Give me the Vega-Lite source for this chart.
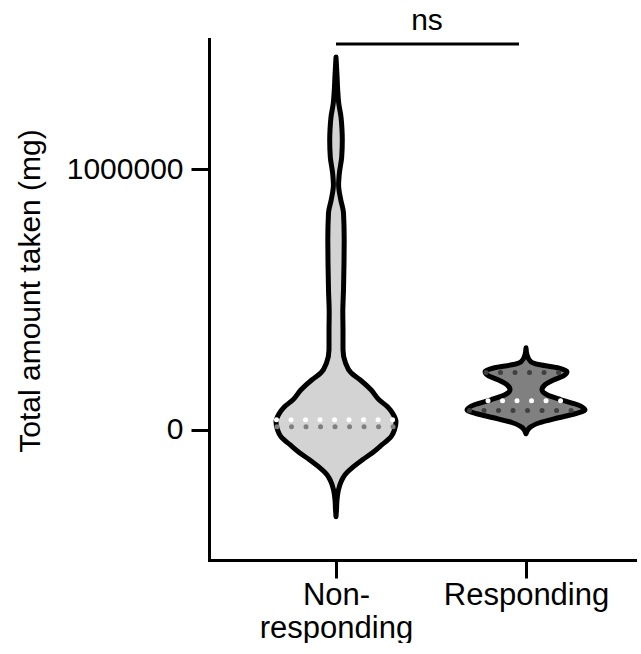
{
  "$schema": "https://vega.github.io/schema/vega-lite/v6.json",
  "background": "white",
  "padding": {"left": 15, "top": 6, "right": 0, "bottom": 0},
  "config": {
    "view": {"stroke": null},
    "font": "Liberation Sans",
    "axis": {
      "domainColor": "black", "domainWidth": 3, "domainCap": "square",
      "tickColor": "black", "tickWidth": 3, "tickSize": 18,
      "labelColor": "black", "labelFont": "Liberation Sans",
      "grid": false, "titleColor": "black", "titleFont": "Liberation Sans", "titleFontWeight": "normal"
    }
  },
  "datasets": {
    "violin": [
      {"group": "Non-responding", "amount": -333700, "lo": 0, "hi": 0},
      {"group": "Non-responding", "amount": -306900, "lo": -0.5, "hi": 0.5},
      {"group": "Non-responding", "amount": -268500, "lo": -1, "hi": 1},
      {"group": "Non-responding", "amount": -230100, "lo": -2.5, "hi": 2.5},
      {"group": "Non-responding", "amount": -191800, "lo": -6, "hi": 6},
      {"group": "Non-responding", "amount": -172600, "lo": -9, "hi": 9},
      {"group": "Non-responding", "amount": -141900, "lo": -17.5, "hi": 17.5},
      {"group": "Non-responding", "amount": -115100, "lo": -26.5, "hi": 26.5},
      {"group": "Non-responding", "amount": -88200, "lo": -36.5, "hi": 36.5},
      {"group": "Non-responding", "amount": -57500, "lo": -46, "hi": 46},
      {"group": "Non-responding", "amount": -26900, "lo": -55, "hi": 55},
      {"group": "Non-responding", "amount": 0, "lo": -58.5, "hi": 58.5},
      {"group": "Non-responding", "amount": 30700, "lo": -60, "hi": 60},
      {"group": "Non-responding", "amount": 57500, "lo": -57.5, "hi": 57.5},
      {"group": "Non-responding", "amount": 88200, "lo": -51.5, "hi": 51.5},
      {"group": "Non-responding", "amount": 115100, "lo": -43, "hi": 43},
      {"group": "Non-responding", "amount": 153400, "lo": -35, "hi": 35},
      {"group": "Non-responding", "amount": 191800, "lo": -24, "hi": 24},
      {"group": "Non-responding", "amount": 218600, "lo": -15, "hi": 15},
      {"group": "Non-responding", "amount": 257000, "lo": -9.5, "hi": 9.5},
      {"group": "Non-responding", "amount": 306900, "lo": -7, "hi": 7},
      {"group": "Non-responding", "amount": 383600, "lo": -7, "hi": 7},
      {"group": "Non-responding", "amount": 448800, "lo": -6.8, "hi": 6.8},
      {"group": "Non-responding", "amount": 537000, "lo": -7.5, "hi": 7.5},
      {"group": "Non-responding", "amount": 640600, "lo": -8, "hi": 8},
      {"group": "Non-responding", "amount": 728800, "lo": -8.2, "hi": 8.2},
      {"group": "Non-responding", "amount": 832400, "lo": -7.5, "hi": 7.5},
      {"group": "Non-responding", "amount": 882200, "lo": -4.8, "hi": 4.8},
      {"group": "Non-responding", "amount": 939800, "lo": -2.6, "hi": 2.6},
      {"group": "Non-responding", "amount": 985800, "lo": -3.4, "hi": 3.4},
      {"group": "Non-responding", "amount": 1047200, "lo": -5.7, "hi": 5.7},
      {"group": "Non-responding", "amount": 1112400, "lo": -6.3, "hi": 6.3},
      {"group": "Non-responding", "amount": 1150700, "lo": -6, "hi": 6},
      {"group": "Non-responding", "amount": 1200600, "lo": -5, "hi": 5},
      {"group": "Non-responding", "amount": 1254300, "lo": -2.7, "hi": 2.7},
      {"group": "Non-responding", "amount": 1304200, "lo": -1.7, "hi": 1.7},
      {"group": "Non-responding", "amount": 1361700, "lo": -1, "hi": 1},
      {"group": "Non-responding", "amount": 1430800, "lo": 0, "hi": 0},
      {"group": "Responding", "amount": -15300, "lo": 0, "hi": 0},
      {"group": "Responding", "amount": 7700, "lo": -3.5, "hi": 3.5},
      {"group": "Responding", "amount": 26900, "lo": -13.5, "hi": 13.5},
      {"group": "Responding", "amount": 46000, "lo": -32.5, "hi": 32.5},
      {"group": "Responding", "amount": 61400, "lo": -49, "hi": 49},
      {"group": "Responding", "amount": 76700, "lo": -59, "hi": 59},
      {"group": "Responding", "amount": 95900, "lo": -51.5, "hi": 51.5},
      {"group": "Responding", "amount": 115100, "lo": -35, "hi": 35},
      {"group": "Responding", "amount": 134300, "lo": -21, "hi": 21},
      {"group": "Responding", "amount": 153400, "lo": -16, "hi": 16},
      {"group": "Responding", "amount": 172600, "lo": -19, "hi": 19},
      {"group": "Responding", "amount": 191800, "lo": -28, "hi": 28},
      {"group": "Responding", "amount": 207100, "lo": -37.5, "hi": 37.5},
      {"group": "Responding", "amount": 222500, "lo": -41, "hi": 41},
      {"group": "Responding", "amount": 237800, "lo": -31.5, "hi": 31.5},
      {"group": "Responding", "amount": 249300, "lo": -14, "hi": 14},
      {"group": "Responding", "amount": 260800, "lo": -5, "hi": 5},
      {"group": "Responding", "amount": 287700, "lo": -1, "hi": 1},
      {"group": "Responding", "amount": 314500, "lo": 0, "hi": 0}
    ],
    "summary": [
      {"group": "Non-responding", "stat": "median", "amount": 38400, "lo": -59.5, "hi": 59.5},
      {"group": "Non-responding", "stat": "quartile", "amount": 11500, "lo": -59, "hi": 59},
      {"group": "Responding", "stat": "quartile", "amount": 219800, "lo": -40, "hi": 40},
      {"group": "Responding", "stat": "median", "amount": 111200, "lo": -38, "hi": 38},
      {"group": "Responding", "stat": "quartile", "amount": 74000, "lo": -56.5, "hi": 56.5}
    ],
    "comparison": [
      {"group1": "Non-responding", "group2": "Responding", "label": "ns", "amount": 1480600}
    ]
  },
  "spacing": 0,
  "bounds": "flush",
  "resolve": {"scale": {"x": "independent", "y": "independent", "color": "independent"}},
  "hconcat": [
    {
      "width": 221,
      "height": 521,
      "layer": [
        {
          "data": {"name": "violin"},
          "transform": [{"filter": "datum.group === 'Non-responding'"}],
          "mark": {"type": "area", "orient": "horizontal", "interpolate": "monotone", "fill": "#d3d3d3", "stroke": "black", "strokeWidth": 5, "strokeJoin": "round"},
          "encoding": {
            "y": {
              "field": "amount", "type": "quantitative",
              "scale": {"domain": [-500000, 1500000], "nice": false, "zero": false},
              "axis": {
                "values": [0, 1000000], "format": "d", "labelFontSize": 30, "labelPadding": 8,
                "title": "Total amount taken (mg)", "titleFontSize": 30,
                "titleX": -170, "titleY": 251.5, "titleBaseline": "alphabetic", "titleAngle": 270, "titleAlign": "center"
              }
            },
            "x": {
              "field": "lo", "type": "quantitative",
              "scale": {"domain": [-127, 94], "nice": false, "zero": false},
              "axis": {"values": [0], "labelExpr": "['Non-', 'responding']", "labelFontSize": 31, "labelLineHeight": 33, "labelPadding": 2, "title": null}
            },
            "x2": {"field": "hi"}
          }
        },
        {
          "data": {"name": "summary"},
          "transform": [{"filter": "datum.group === 'Non-responding'"}],
          "mark": {"type": "rule", "strokeWidth": 5, "strokeCap": "round", "strokeDash": [0.01, 14.5]},
          "encoding": {
            "y": {"field": "amount", "type": "quantitative"},
            "x": {"field": "lo", "type": "quantitative"},
            "x2": {"field": "hi"},
            "color": {"field": "stat", "type": "nominal", "scale": {"domain": ["median", "quartile"], "range": ["#ffffff", "#7f7f7f"]}, "legend": null}
          }
        },
        {
          "data": {"name": "comparison"},
          "mark": {"type": "rule", "strokeWidth": 3, "color": "black"},
          "encoding": {
            "y": {"field": "amount", "type": "quantitative"},
            "x": {"datum": 0},
            "x2": {"datum": 94}
          }
        },
        {
          "data": {"name": "comparison"},
          "mark": {"type": "text", "fontSize": 30, "font": "Liberation Sans", "baseline": "alphabetic", "align": "center", "dy": -14, "color": "black"},
          "encoding": {
            "y": {"field": "amount", "type": "quantitative"},
            "x": {"datum": 91},
            "text": {"field": "label"}
          }
        }
      ]
    },
    {
      "width": 207,
      "height": 521,
      "layer": [
        {
          "data": {"name": "violin"},
          "transform": [{"filter": "datum.group === 'Responding'"}],
          "mark": {"type": "area", "orient": "horizontal", "interpolate": "monotone", "fill": "#808080", "stroke": "black", "strokeWidth": 5, "strokeJoin": "round"},
          "encoding": {
            "y": {
              "field": "amount", "type": "quantitative",
              "scale": {"domain": [-500000, 1500000], "nice": false, "zero": false},
              "axis": null
            },
            "x": {
              "field": "lo", "type": "quantitative",
              "scale": {"domain": [-96, 111], "nice": false, "zero": false},
              "axis": {"values": [0], "labelExpr": "'Responding'", "labelFontSize": 31, "labelPadding": 2, "title": null}
            },
            "x2": {"field": "hi"}
          }
        },
        {
          "data": {"name": "summary"},
          "transform": [{"filter": "datum.group === 'Responding'"}],
          "mark": {"type": "rule", "strokeWidth": 5, "strokeCap": "round", "strokeDash": [0.01, 14.5]},
          "encoding": {
            "y": {"field": "amount", "type": "quantitative"},
            "x": {"field": "lo", "type": "quantitative"},
            "x2": {"field": "hi"},
            "color": {"field": "stat", "type": "nominal", "scale": {"domain": ["median", "quartile"], "range": ["#ffffff", "#404040"]}, "legend": null}
          }
        },
        {
          "data": {"name": "comparison"},
          "mark": {"type": "rule", "strokeWidth": 3, "color": "black"},
          "encoding": {
            "y": {"field": "amount", "type": "quantitative"},
            "x": {"datum": -96},
            "x2": {"datum": -7}
          }
        }
      ]
    }
  ]
}
